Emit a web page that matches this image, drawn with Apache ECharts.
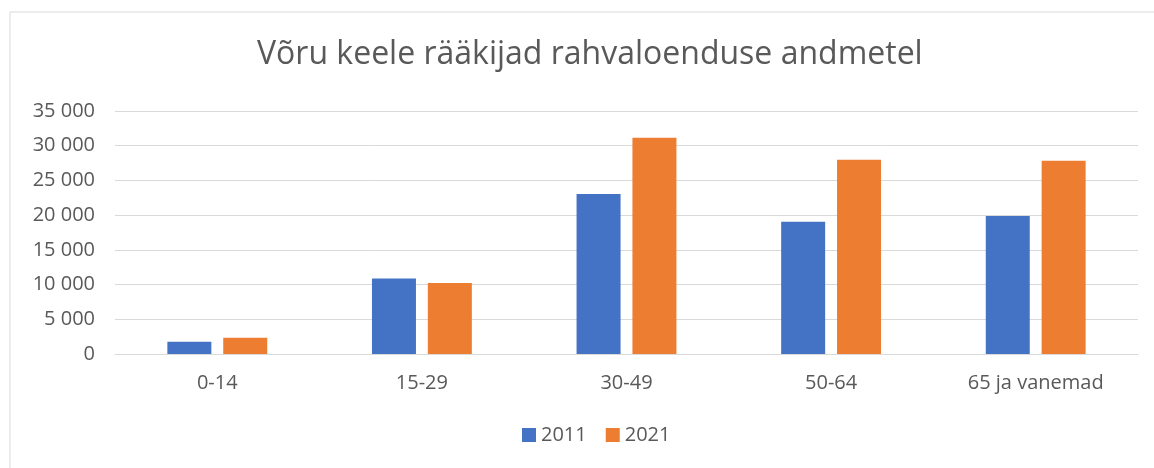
<!DOCTYPE html>
<html>
<head>
<meta charset="UTF-8">
<title>Võru keele rääkijad</title>
<style>
    * { margin: 0; padding: 0; }
    html, body { width: 100%; height: 100%; background: #fff; }
    #chart { width: 1154px; height: 468px; }
</style>
</head>
<body>
<div id="chart"></div>
<script src="https://cdn.jsdelivr.net/npm/echarts@6/dist/echarts.min.js"></script>
<script>
var categories = ['0-14', '15-29', '30-49', '50-64', '65 ja vanemad'];
var years = ['2011', '2021'];
var values2011 = [1770, 10890, 23050, 19060, 19880];
var values2021 = [2350, 10230, 31160, 27990, 27850];
var yTicks = [0, 5000, 10000, 15000, 20000, 25000, 30000, 35000];

var font = '"Open Sans", sans-serif';

function fmt(v) {
    return String(v).replace(/\B(?=(\d{3})+(?!\d))/g, ' ');
}

var chart = echarts.init(document.getElementById('chart'));
chart.setOption({
    animation: false,
    color: ['#4472c4', '#ed7d31'],
    textStyle: { fontFamily: font },
    graphic: [{
        type: 'rect',
        shape: { x: 10, y: 12, width: 1160, height: 470 },
        style: { fill: 'none', stroke: '#d9d9d9', lineWidth: 1 },
        silent: true
    }],
    title: {
        text: 'Võru keele rääkijad rahvaloenduse andmetel',
        left: 252,
        top: 34,
        textStyle: { fontFamily: font, fontWeight: 400, fontSize: 32, color: '#595959' }
    },
    legend: {
        data: years,
        bottom: 18,
        left: 517,
        icon: 'rect',
        itemWidth: 14,
        itemHeight: 14,
        itemGap: 19,
        textStyle: { fontFamily: font, fontSize: 20, color: '#595959' }
    },
    grid: { left: 115, right: 16, top: 111, bottom: 114 },
    xAxis: {
        type: 'category',
        data: categories,
        axisLine: { lineStyle: { color: '#d9d9d9', width: 1 } },
        axisTick: { show: false },
        axisLabel: { margin: 19, fontFamily: font, fontSize: 20, color: '#595959' }
    },
    yAxis: {
        type: 'value',
        min: yTicks[0],
        max: yTicks[yTicks.length - 1],
        interval: 5000,
        axisLine: { show: false },
        axisTick: { show: false },
        splitLine: { lineStyle: { color: '#d9d9d9', width: 1 } },
        axisLabel: { margin: 20, fontFamily: font, fontSize: 20, color: '#595959', formatter: fmt }
    },
    series: [
        { name: years[0], type: 'bar', data: values2011, barWidth: 44, barGap: '27%' },
        { name: years[1], type: 'bar', data: values2021, barWidth: 44, barGap: '27%' }
    ]
});
</script>
</body>
</html>
